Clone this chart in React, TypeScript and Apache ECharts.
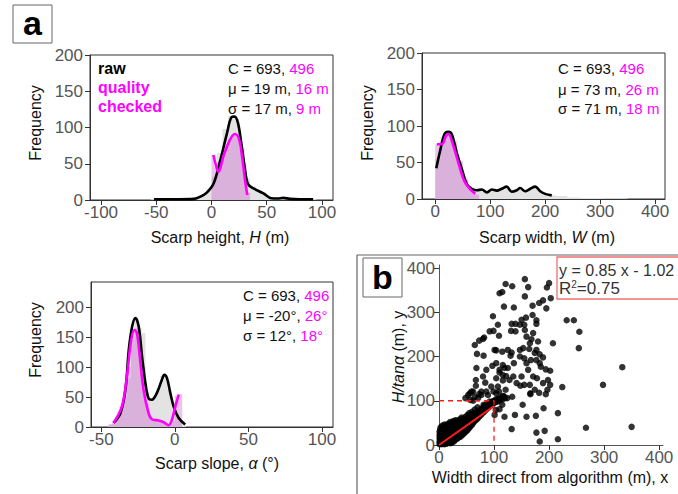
import React, { useEffect, useRef } from "react";
import * as echarts from "echarts";

const FONT = "'Liberation Sans', Arial, Helvetica, sans-serif";
const MAG = "#ff00ff";
const GRAYFILL = "#e3e3e3";
const PINKFILL = "rgba(200,70,200,0.32)";

// ---- Panel 1: scarp height ----
const heightRawStart = -55;
const heightRawWidth = 5;
const heightRawCounts = [1, 1, 1, 1, 1, 1, 1, 1, 3, 6, 14, 32, 65, 98, 116, 112, 72, 30, 19, 13, 8, 3, 2, 3, 3, 1, 1, 1, 1, 1];
const heightQcStart = 0;
const heightQcWidth = 2.5;
const heightQcCounts = [62, 45, 42, 50, 62, 75, 84, 90, 92, 88, 70, 50, 25, 10];
const heightRawKde = [[-52, 1], [-30, 1], [-16, 1.5], [-10, 4.6], [-4, 10.6], [2, 23], [8, 55], [14, 92], [18, 114], [21, 115], [24, 106], [27, 78], [30, 46], [33, 22], [38, 16], [47, 9], [54, 2.5], [60, 2], [65, 3], [71, 1.5], [80, 1], [92, 1]];
const heightQcKde = [[1.7, 62], [4, 48], [6.2, 39], [8, 44], [10.7, 60], [16.7, 83], [21, 91], [24.3, 87], [27.3, 64], [30.3, 28], [32.4, 7]];

// ---- Panel 2: scarp width ----
const widthRawStart = 0;
const widthRawWidth = 10;
const widthRawCounts = [55, 85, 92, 80, 50, 25, 15, 12, 12, 10, 12, 12, 15, 14, 12, 13, 12, 14, 15, 10, 7, 5, 4, 4, 2, 2, 1.5, 1.5, 1.5, 1.5, 1, 1, 1, 1, 1];
const widthQcStart = 0;
const widthQcWidth = 10;
const widthQcCounts = [75, 80, 88, 75, 52, 28, 14, 6];
const widthRawKde = [[2, 42], [9, 66], [17, 89], [24, 92], [30, 89], [39, 64], [48.5, 41], [57.6, 20], [66.7, 14], [76, 12], [85, 13], [94, 9], [103, 13], [112, 11.5], [121, 14], [130, 17], [139, 10], [148.5, 12], [154.5, 15], [163.6, 10.6], [173, 14], [182, 17], [191, 10.6], [200, 7], [212, 5]];
const widthQcKde = [[3, 75], [12, 75], [20, 87], [24, 89], [33, 73], [42, 50], [53, 24.5], [64, 13], [73, 7]];

// ---- Panel 3: scarp slope ----
const slopeRawStart = -45;
const slopeRawWidth = 2.5;
const slopeRawCounts = [3, 6, 14, 28, 50, 82, 160, 180, 165, 157, 58, 45, 52, 65, 85, 86, 62, 40, 18, 10, 3];
const slopeQcStart = -45;
const slopeQcWidth = 2.5;
const slopeQcCounts = [5, 10, 18, 35, 60, 100, 145, 165, 150, 100, 40, 15, 10, 10, 8, 6, 5, 10, 52, 55];
const slopeRawKde = [[-41.6, 6.7], [-37, 23], [-33.6, 62], [-31.3, 129], [-29, 168], [-26.8, 182], [-24.6, 168], [-22.3, 118], [-20, 73], [-17.9, 48], [-15.6, 45.6], [-12.2, 57], [-8.8, 79], [-7.2, 87], [-5.4, 82], [-3.1, 57], [-0.8, 34], [2.6, 15], [7, 4]];
const slopeQcKde = [[-41.6, 7], [-36, 34], [-32.6, 84], [-30, 140], [-27.6, 162], [-25.8, 157], [-23.6, 112], [-21.3, 62], [-17.9, 23], [-15.6, 13], [-11, 11], [-7.6, 8], [-4.2, 3], [-2, 12], [0.3, 34], [2.6, 54]];

// ---- Panel b: scatter ----
const scatterCluster = [
  [1,2],[1,8],[1,15],[1,22],[1,30],[2,5],[2,12],[2,18],[2,26],[2,35],[3,3],[3,10],[3,20],[3,28],[3,40],[4,6],[4,14],[4,24],[4,33],[5,2],[5,9],[5,17],[5,27],[5,38],[6,4],[6,12],[6,21],[6,30],[6,44],[7,7],[7,15],[7,25],[7,35],[8,3],[8,11],[8,19],[8,29],[8,40],[9,6],[9,14],[9,23],[9,33],[10,2],[10,10],[10,18],[10,27],[10,37],[10,46],
  [11,5],[11,14],[11,22],[11,31],[11,42],[12,8],[12,17],[12,26],[12,35],[13,3],[13,12],[13,21],[13,30],[13,44],[14,7],[14,16],[14,25],[14,38],[15,10],[15,20],[15,29],[15,47],[16,4],[16,14],[16,23],[16,33],[17,9],[17,18],[17,28],[17,40],[18,12],[18,22],[18,32],[18,48],[19,6],[19,16],[19,26],[19,36],[20,10],[20,20],[20,30],[20,42],[20,52],
  [21,4],[21,15],[21,25],[21,35],[22,9],[22,19],[22,29],[22,45],[23,13],[23,23],[23,33],[23,50],[24,6],[24,17],[24,27],[24,39],[25,11],[25,21],[25,31],[25,48],[26,15],[26,25],[26,36],[26,54],[27,8],[27,19],[27,29],[27,42],[28,13],[28,23],[28,33],[28,50],[29,17],[29,27],[29,38],[30,12],[30,21],[30,31],[30,45],[30,56],
  [31,16],[31,26],[31,36],[32,20],[32,30],[32,48],[33,14],[33,24],[33,34],[33,55],[34,18],[34,28],[34,40],[35,22],[35,32],[35,50],[36,17],[36,27],[36,37],[37,21],[37,31],[37,45],[38,25],[38,35],[38,58],[39,19],[39,29],[39,40],[40,23],[40,33],[40,50],[41,27],[41,37],[41,62],[42,22],[42,31],[42,44],[43,28],[43,38],[43,55],[44,25],[44,34],[44,46],[45,30],[45,40],[45,60],
  [46,32],[46,42],[47,28],[47,38],[47,52],[48,34],[48,44],[48,64],[49,31],[49,41],[50,36],[50,46],[50,58],[51,33],[51,43],[52,39],[52,49],[52,68],[53,36],[53,46],[53,60],[54,42],[54,52],[55,39],[55,48],[55,72],[56,45],[56,55],[57,42],[57,51],[57,64],[58,47],[58,57],[59,50],[59,60],[60,46],[60,55],[60,75],[61,52],[61,62],[62,50],[62,58],[62,70],[63,55],[63,64],[64,53],[64,61],[65,58],[65,67],[65,80],
  [66,56],[66,64],[67,60],[67,70],[68,58],[68,66],[69,63],[69,74],[70,60],[70,68],[70,85],[71,66],[72,63],[72,72],[73,68],[74,66],[74,76],[75,70],[76,68],[76,80],[77,73],[78,71],[78,82],[79,75],[80,73],[80,84],[81,78],[82,76],[82,88],[83,80],[84,78],[85,83],[86,81],[86,92],[87,85],[88,83],[89,88],[90,86],[91,90],[92,88],[93,95],[94,91],[95,93],[96,97],[97,92],[98,99],[99,95],[100,100],[102,96],[104,104],[106,98],[108,105],[110,100],[112,108],[115,103],[118,110],[120,106]
];
const scatterSpread = [
  [156,375],[121,364],[133,359],[162,357],[200,366],[196,356],[110,343],[115,346],[203,332],[189,327],[182,321],[156,336],[170,315],[195,309],[118,313],[136,311],[98,291],[107,272],[92,257],[99,258],[170,294],[158,288],[155,272],[177,282],[177,274],[132,274],[139,274],[150,283],[232,282],[245,282],[255,256],[254,219],[139,257],[131,258],[80,240],[82,243],[73,236],[65,226],[69,206],[81,202],[97,179],[86,170],[68,174],[80,155],[67,147],[67,134],[62,121],[84,141],[101,215],[104,214],[115,211],[125,215],[132,209],[109,247],[130,202],[136,185],[147,200],[153,219],[155,196],[159,185],[164,217],[167,192],[162,170],[177,192],[183,185],[185,177],[194,171],[207,230],[202,168],[171,155],[178,151],[155,136],[165,136],[148,134],[128,147],[116,158],[110,164],[122,156],[116,146],[107,132],[99,121],[109,121],[121,125],[133,109],[124,106],[116,111],[104,117],[182,118],[194,115],[202,136],[224,131],[190,83],[166,117],[166,115],[152,91],[115,91],[110,81],[103,79],[101,68],[119,64],[138,68],[159,64],[176,66],[216,72],[132,36],[177,28],[192,32],[183,8],[216,13],[267,39],[350,41],[298,136],[333,176],[156,260],[147,272],[159,245],[168,239],[171,253],[180,234],[177,215],[183,205],[189,198],[174,208],[165,230],[147,215],[198,147],[189,140],[197,125],[174,125],[150,155],[141,140],[135,155],[125,174],[119,174],[110,170],[116,181],[104,185],[104,151],[95,132],[89,113],[86,121],[77,113],[71,106],[62,100],[56,117],[81,91],[92,98],[101,98],[110,102],[53,113],[48,106],[59,121],[57,102],[65,109],[73,115],[77,121]
];
const fitLine = [[0, 0], [100, 88]];
const guideLine = [[0, 100], [100, 100], [100, 0]];

function steps(start: number, width: number, counts: number[]) {
  const d = counts.map((c, i) => [start + i * width, c]);
  d.push([start + counts.length * width, 0]);
  return d;
}

function histSeries(idx: number, data: number[][], color: string, z: number) {
  return {
    type: "line", xAxisIndex: idx, yAxisIndex: idx, data, step: "end", symbol: "none",
    lineStyle: { width: 0, opacity: 0 }, areaStyle: { color, opacity: 1 }, z, silent: true,
  };
}
function kdeSeries(idx: number, data: number[][], color: string, z: number) {
  return {
    type: "line", xAxisIndex: idx, yAxisIndex: idx, data, smooth: 0.35, symbol: "none",
    lineStyle: { width: 2.6, color }, z, silent: true,
  };
}

const axisCol = "#333";
const TICKFS = 17;
function xAx(idx: number, min: number, max: number, ticks: number[]) {
  return {
    type: "value", gridIndex: idx, min, max,
    axisLine: { show: true, onZero: false, lineStyle: { color: axisCol, width: 1 } },
    axisTick: { show: true, length: 5, customValues: ticks, lineStyle: { color: axisCol } },
    axisLabel: { customValues: ticks, color: "#555", fontSize: TICKFS, fontFamily: FONT, margin: 4 },
    splitLine: { show: false },
  };
}
function yAx(idx: number, min: number, max: number, ticks: number[]) {
  return {
    type: "value", gridIndex: idx, min, max,
    axisLine: { show: true, onZero: false, lineStyle: { color: axisCol, width: 1 } },
    axisTick: { show: true, length: 5, customValues: ticks, lineStyle: { color: axisCol } },
    axisLabel: { customValues: ticks, color: "#555", fontSize: TICKFS, fontFamily: FONT, margin: 7 },
    splitLine: { show: false },
  };
}

function txt(x: number, y: number, text: string, extra: any = {}, rich: any = undefined, rotation = 0) {
  return {
    type: "text", x, y, rotation, z: 100,
    style: {
      text, fontFamily: FONT, fontSize: 15, fill: "#111", textVerticalAlign: "middle", textAlign: "left",
      ...extra, rich,
    },
  };
}

const magRich = { m: { fill: MAG, fontFamily: FONT, fontSize: 15 } };
const statStyle = { fontSize: 15 };
const italRich = (fs: number) => ({ i: { fontStyle: "italic", fontFamily: FONT, fontSize: fs, fill: "#111" } });

export default function App() {
  const ref = useRef<HTMLDivElement>(null);
  useEffect(() => {
    const chart = echarts.init(ref.current!, undefined, { renderer: "svg" });
    const option: any = {
      animation: false,
      backgroundColor: "#fff",
      grid: [
        { left: 90, top: 55, width: 243, height: 145, show: true, borderColor: "#333", borderWidth: 1, backgroundColor: "transparent" },
        { left: 422, top: 53, width: 243, height: 146, show: true, borderColor: "#333", borderWidth: 1, backgroundColor: "transparent" },
        { left: 91, top: 282, width: 242, height: 145, show: true, borderColor: "#333", borderWidth: 1, backgroundColor: "transparent" },
        { left: 439, top: 265, width: 224, height: 180, show: false },
      ],
      xAxis: [
        xAx(0, -110, 110, [-100, -50, 0, 50, 100]),
        xAx(1, -24, 418, [0, 100, 200, 300, 400]),
        xAx(2, -57, 107.5, [-50, 0, 50, 100]),
        { ...xAx(3, 0, 407, [0, 100, 200, 300, 400]), axisLine: { show: true, onZero: false, lineStyle: { color: "#555", width: 1 } } },
      ],
      yAxis: [
        yAx(0, 0, 200, [0, 50, 100, 150, 200]),
        yAx(1, 0, 200, [0, 50, 100, 150, 200]),
        yAx(2, 0, 242, [0, 50, 100, 150, 200]),
        { ...yAx(3, 0, 407, [0, 100, 200, 300, 400]), axisLine: { show: true, onZero: false, lineStyle: { color: "#555", width: 1 } }, axisLabel: { customValues: [0, 100, 200, 300, 400], color: "#555", fontSize: TICKFS, fontFamily: FONT, margin: 4 } },
      ],
      series: [
        histSeries(0, steps(heightRawStart, heightRawWidth, heightRawCounts), GRAYFILL, 1),
        histSeries(0, steps(heightQcStart, heightQcWidth, heightQcCounts), PINKFILL, 2),
        kdeSeries(0, heightRawKde, "#000", 3),
        kdeSeries(0, heightQcKde, MAG, 4),
        histSeries(1, steps(widthRawStart, widthRawWidth, widthRawCounts), GRAYFILL, 1),
        histSeries(1, steps(widthQcStart, widthQcWidth, widthQcCounts), PINKFILL, 2),
        kdeSeries(1, widthRawKde, "#000", 3),
        kdeSeries(1, widthQcKde, MAG, 4),
        histSeries(2, steps(slopeRawStart, slopeRawWidth, slopeRawCounts), GRAYFILL, 1),
        histSeries(2, steps(slopeQcStart, slopeQcWidth, slopeQcCounts), PINKFILL, 2),
        kdeSeries(2, slopeRawKde, "#000", 3),
        kdeSeries(2, slopeQcKde, MAG, 4),
        {
          type: "scatter", xAxisIndex: 3, yAxisIndex: 3, data: scatterCluster.concat(scatterSpread),
          symbol: "circle", symbolSize: 6.5, itemStyle: { color: "#000" }, z: 2, silent: true,
        },
        {
          type: "line", xAxisIndex: 3, yAxisIndex: 3, data: fitLine, symbol: "none",
          lineStyle: { color: "#ff1a1a", width: 2 }, z: 5, silent: true,
        },
        {
          type: "line", xAxisIndex: 3, yAxisIndex: 3, data: guideLine, symbol: "none",
          lineStyle: { color: "#ff1a1a", width: 1.3, type: [5, 4] }, z: 5, silent: true,
        },
      ],
      graphic: [
        // label a
        { type: "rect", shape: { x: 13, y: 5, width: 39, height: 38 }, style: { fill: "#fff", stroke: "#666", lineWidth: 1 }, z: 50 },
        txt(32.5, 23, "a", { fontSize: 34, fontWeight: "bold", textAlign: "center", fill: "#000" }),
        // panel b frame
        { type: "line", shape: { x1: 357, y1: 255, x2: 357, y2: 494 }, style: { stroke: "#666", lineWidth: 1.2 }, z: 50 },
        { type: "line", shape: { x1: 357, y1: 255, x2: 678, y2: 255 }, style: { stroke: "#666", lineWidth: 1.2 }, z: 50 },
        { type: "rect", shape: { x: 363, y: 258, width: 39, height: 39 }, style: { fill: "#fff", stroke: "#666", lineWidth: 1 }, z: 50 },
        txt(382.5, 277, "b", { fontSize: 34, fontWeight: "bold", textAlign: "center", fill: "#000" }),
        // equation box
        { type: "rect", shape: { x: 557, y: 257, width: 125, height: 42 }, style: { fill: "#fff", stroke: "#f07070", lineWidth: 1.3 }, z: 50 },
        txt(559, 270, "y = 0.85 x - 1.02", { fontSize: 16, fill: "#333" }),
        txt(559, 288, "R{s|2}=0.75", { fontSize: 17, fill: "#333" }, { s: { fontSize: 10, verticalAlign: "top", fontFamily: FONT, fill: "#333", padding: [0, 0, 6, 0] } }),
        // panel 1 legend
        txt(98, 68, "raw", { fontWeight: "bold", fill: "#000", fontSize: 16 }),
        txt(98, 87, "quality", { fontWeight: "bold", fill: MAG, fontSize: 16 }),
        txt(98, 106, "checked", { fontWeight: "bold", fill: MAG, fontSize: 16 }),
        // stats
        txt(228, 68, "C = 693, {m|496}", statStyle, magRich),
        txt(228, 88, "μ = 19 m, {m|16 m}", statStyle, magRich),
        txt(228, 108, "σ = 17 m, {m|9 m}", statStyle, magRich),
        txt(558, 68, "C = 693, {m|496}", statStyle, magRich),
        txt(558, 89, "μ = 73 m, {m|26 m}", statStyle, magRich),
        txt(558, 108, "σ = 71 m, {m|18 m}", statStyle, magRich),
        txt(243, 295, "C = 693, {m|496}", statStyle, magRich),
        txt(243, 315, "μ = -20°, {m|26°}", statStyle, magRich),
        txt(243, 335, "σ = 12°, {m|18°}", statStyle, magRich),
        // axis titles
        txt(220, 237, "Scarp height, {i|H} (m)", { fontSize: 16, textAlign: "center" }, italRich(16)),
        txt(547, 237, "Scarp width, {i|W} (m)", { fontSize: 16, textAlign: "center" }, italRich(16)),
        txt(217, 463, "Scarp slope, {i|α} (°)", { fontSize: 16, textAlign: "center" }, italRich(16)),
        txt(550, 477, "Width direct from algorithm (m), x", { fontSize: 16, textAlign: "center" }),
        txt(35, 123, "Frequency", { fontSize: 16, textAlign: "center" }, undefined, Math.PI / 2),
        txt(367, 123, "Frequency", { fontSize: 16, textAlign: "center" }, undefined, Math.PI / 2),
        txt(35, 340, "Frequency", { fontSize: 16, textAlign: "center" }, undefined, Math.PI / 2),
        txt(398, 357, "{i|H/tanα} (m), y", { fontSize: 16, textAlign: "center" }, italRich(16), Math.PI / 2),
      ],
    };
    chart.setOption(option);
    return () => chart.dispose();
  }, []);
  return <div ref={ref} style={{ position: "fixed", left: 0, top: 0, width: 678, height: 494 }} />;
}
